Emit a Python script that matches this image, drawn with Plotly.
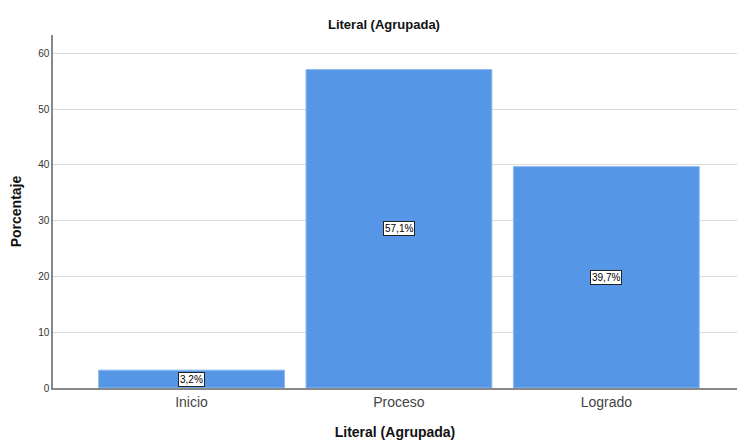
import plotly.graph_objects as go

categories = ["Inicio", "Proceso", "Logrado"]
values = [3.2, 57.1, 39.7]
labels = ["3,2%", "57,1%", "39,7%"]
y_ticks = [0, 10, 20, 30, 40, 50, 60]

fig = go.Figure()
fig.add_trace(go.Bar(
    x=categories, y=values, width=0.896,
    marker=dict(color="#5596E6", line=dict(color="#8DB8F0", width=1)),
    hoverinfo="skip",
))

for c, v, t in zip(categories, values, labels):
    fig.add_annotation(x=c, y=v / 2, text=t, showarrow=False,
                       font=dict(family="Liberation Sans, Arial", size=10, color="#000"),
                       bgcolor="white", bordercolor="#222", borderwidth=1, borderpad=1)

fig.update_layout(
    width=737, height=440,
    margin=dict(l=53, r=0, t=35, b=52),
    paper_bgcolor="white", plot_bgcolor="white",
    font=dict(family="Liberation Sans, Arial", color="#222"),
    showlegend=False,
    title=dict(text="<b>Literal (Agrupada)</b>", x=0.521, xanchor="center", y=0.945, yanchor="middle",
               font=dict(size=13, color="#111")),
    xaxis=dict(
        range=[-0.668, 2.63],
        showline=True, linecolor="#888", linewidth=1.5,
        showgrid=False, ticks="",
        tickfont=dict(size=14, color="#444"),
        title=dict(text="<b>Literal (Agrupada)</b>", font=dict(size=14, color="#111"), standoff=19),
    ),
    yaxis=dict(
        range=[0, 63.3],
        tickvals=y_ticks,
        showline=True, linecolor="#888", linewidth=1.5,
        showgrid=True, gridcolor="#D9D9D9", gridwidth=1,
        zeroline=False, ticks="",
        tickfont=dict(size=10, color="#333"),
        title=dict(text="<b>Porcentaje</b>", font=dict(size=14, color="#111"), standoff=13),
    ),
)

fig.write_html("out.html")
